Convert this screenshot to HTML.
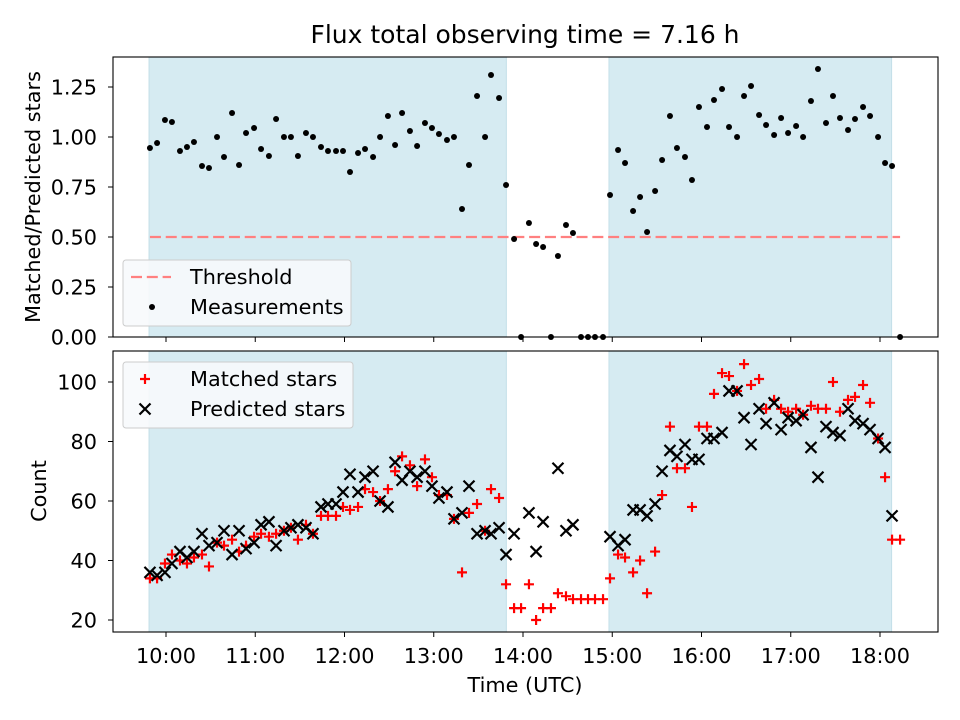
<!DOCTYPE html>
<html><head><meta charset="utf-8"><style>
body{margin:0;background:#fff}
svg{display:block;font-family:"DejaVu Sans","Liberation Sans",sans-serif}
</style></head><body>
<svg id="chart" width="960" height="720" viewBox="0 0 960 720" xmlns="http://www.w3.org/2000/svg"></svg>
<script>
// minutes after 09:00 UTC
const times=[49.2,54.0,59.3,64.0,69.4,74.1,78.8,84.2,88.9,94.3,99.0,104.4,109.1,113.8,119.2,123.9,129.2,134.0,139.3,144.0,148.7,154.1,158.8,164.2,168.9,174.3,179.0,183.7,189.1,193.8,199.2,203.9,209.2,214.0,218.7,224.0,228.8,234.1,238.8,243.5,248.9,253.6,259.0,263.7,269.1,274.5,278.5,283.9,288.6,294.0,
298.7,304.0,308.8,313.5,318.8,323.5,328.9,333.6,339.0,343.7,348.4,353.8,
358.5,363.9,368.6,374.0,378.7,383.4,388.8,393.5,398.8,403.5,408.9,413.6,418.3,423.7,428.4,433.8,438.5,443.9,448.6,453.3,458.7,463.4,468.8,473.5,478.2,483.6,488.3,493.6,498.3,503.7,508.4,513.1,518.5,523.2,528.6,533.3,538.7,543.4,548.1,553.5];
const ratio=[.945,.97,1.085,1.075,.93,.95,.975,.855,.845,1.0,.9,1.12,.86,1.02,1.045,.94,.905,1.09,1.0,1.0,.905,1.02,1.0,.95,.93,.93,.93,.825,.92,.94,.9,1.0,1.105,.96,1.12,1.03,.955,1.07,1.045,1.015,.985,1.0,.64,.86,1.205,1.0,1.31,1.195,.76,.49,
0,.57,.465,.45,0,.405,.56,.52,0,0,0,0,
.71,.935,.87,.63,.70,.525,.73,.885,1.105,.945,.9,.785,1.15,1.05,1.185,1.24,1.05,1.0,1.205,1.255,1.11,1.06,1.01,1.095,1.02,1.055,1.0,1.18,1.34,1.07,1.205,1.095,1.035,1.09,1.15,1.105,1.0,.87,.855,0];
const matched=[34,34,39,42,40,39,41,42,38,46,45,47,43,45,48,49,48,49,50,51,47,52,49,55,55,55,58,57,58,64,63,60,64,70,75,72,65,74,68,62,62,54,36,56,59,50,64,61,32,24,
24,32,20,24,24,29,28,27,27,27,27,27,
34,42,41,36,40,29,43,62,85,71,71,58,85,85,96,103,102,97,106,99,101,91,94,91,90,91,89,92,91,91,100,90,94,95,99,93,81,68,47,47];
const predicted=[36,35,36,39,43,41,43,49,45,46,50,42,50,44,46,52,53,45,50,51,52,51,49,58,59,59,63,69,63,68,70,60,58,73,67,70,68,70,65,61,63,54,56,65,49,50,49,51,42,49,
null,56,43,53,null,71,50,52,null,null,null,null,
48,45,47,57,57,55,59,70,77,75,79,74,74,81,81,83,97,97,88,79,91,86,93,84,88,87,89,78,68,85,83,82,91,87,86,84,81,78,55,null];
const spans=[[48.6,288.8],[357.8,547.8]];
const threshold=0.5;
const thresholdRange=[49.2,553.5];
const xTicks=[60,120,180,240,300,360,420,480,540];
const xTickLabels=["10:00","11:00","12:00","13:00","14:00","15:00","16:00","17:00","18:00"];
const topTicks=[0,0.25,0.5,0.75,1.0,1.25];
const topTickLabels=["0.00","0.25","0.50","0.75","1.00","1.25"];
const botTicks=[20,40,60,80,100];
const botTickLabels=["20","40","60","80","100"];

const NS="http://www.w3.org/2000/svg";
const svg=document.getElementById('chart');
function mk(tag,attrs,parent){const e=document.createElementNS(NS,tag);for(const k in attrs)e.setAttribute(k,attrs[k]);(parent||svg).appendChild(e);return e;}
const L=113,R=938,T1=57,B1=337,T2=351,B2=632;
const FS=20.8;
const xs=m=>166+(m-60)/60*89.25;
const y1=v=>337-v*200;
const y2=v=>620-(v-20)*2.975;

function panel(top,bot,name){
  const g=mk('g',{});
  
  
  spans.forEach(s=>{
    const r=mk('rect',{x:xs(s[0]),y:top,width:xs(s[1])-xs(s[0]),height:bot-top,fill:'#d6ebf2',stroke:'#c3dfe8','stroke-width':1},g);
    
    
  });
  return g;
}
const gt=panel(T1,B1,'ratio-panel');
const th=mk('line',{x1:xs(thresholdRange[0]),x2:xs(thresholdRange[1]),y1:y1(threshold),y2:y1(threshold),stroke:'#ff8080','stroke-width':2.3,'stroke-dasharray':'11,4.8'},gt);


times.forEach((t,i)=>{
  const c=mk('circle',{cx:xs(t),cy:y1(ratio[i]),r:3,fill:'#000'},gt);
  
  
});
const gb=panel(T2,B2,'count-panel');
times.forEach((t,i)=>{
  const x=xs(t),y=y2(matched[i]);
  const p=mk('path',{d:`M${x-5},${y}H${x+5}M${x},${y-5}V${y+5}`,stroke:'#ff0000','stroke-width':2.2,fill:'none'},gb);
  
  
});
times.forEach((t,i)=>{
  if(predicted[i]===null)return;
  const x=xs(t),y=y2(predicted[i]);
  const p=mk('path',{d:`M${x-5.5},${y-5.5}L${x+5.5},${y+5.5}M${x-5.5},${y+5.5}L${x+5.5},${y-5.5}`,stroke:'#000','stroke-width':2.2,fill:'none'},gb);
  
  
});
[[T1,B1,'ratio-frame'],[T2,B2,'count-frame']].forEach(f=>{
  const r=mk('rect',{x:L,y:f[0],width:R-L,height:f[1]-f[0],fill:'none',stroke:'#000','stroke-width':1.1});
  
  
});
xTicks.forEach((m,i)=>{
  const x=xs(m);
  mk('line',{x1:x,x2:x,y1:B1,y2:B1+5,stroke:'#000'});
  mk('line',{x1:x,x2:x,y1:B2,y2:B2+5,stroke:'#000'});
  const tx=mk('text',{x:x,y:B2+31,'font-size':FS,'text-anchor':'middle'});
  tx.textContent=xTickLabels[i];
  
  
});
topTicks.forEach((v,i)=>{
  const y=y1(v);
  mk('line',{x1:L-5,x2:L,y1:y,y2:y,stroke:'#000'});
  const tx=mk('text',{x:L-16,y:y+7.5,'font-size':FS,'text-anchor':'end'});
  tx.textContent=topTickLabels[i];
  
  
});
botTicks.forEach((v,i)=>{
  const y=y2(v);
  mk('line',{x1:L-5,x2:L,y1:y,y2:y,stroke:'#000'});
  const tx=mk('text',{x:L-16,y:y+7.5,'font-size':FS,'text-anchor':'end'});
  tx.textContent=botTickLabels[i];
  
  
});
</script>
<script>
(function(){
const NS="http://www.w3.org/2000/svg";const svg=document.getElementById('chart');
const FS=20.8;
function mk(tag,attrs){const e=document.createElementNS(NS,tag);for(const k in attrs)e.setAttribute(k,attrs[k]);svg.appendChild(e);return e;}
let t=mk('text',{x:525,y:43,'font-size':25,'text-anchor':'middle'});t.textContent='Flux total observing time = 7.16 h';


t=mk('text',{x:40,y:197,'font-size':FS,'text-anchor':'middle',transform:'rotate(-90 40 197)'});t.textContent='Matched/Predicted stars';


t=mk('text',{x:46,y:491,'font-size':FS,'text-anchor':'middle',transform:'rotate(-90 46 491)'});t.textContent='Count';


t=mk('text',{x:525,y:692,'font-size':FS,'text-anchor':'middle'});t.textContent='Time (UTC)';


let r=mk('rect',{x:123,y:260,width:228,height:66,rx:3,fill:'#f7fafc','fill-opacity':0.9,stroke:'#ccc'});


mk('line',{x1:131,x2:171,y1:277,y2:277,stroke:'#ff8080','stroke-width':2.3,'stroke-dasharray':'11,4.8'});
mk('circle',{cx:152,cy:307,r:3,fill:'#000'});
t=mk('text',{x:190,y:284,'font-size':FS});t.textContent='Threshold';


t=mk('text',{x:190,y:314,'font-size':FS});t.textContent='Measurements';


r=mk('rect',{x:123,y:362,width:230,height:66,rx:3,fill:'#f7fafc','fill-opacity':0.9,stroke:'#ccc'});


mk('path',{d:'M140,379H150M145,374V384',stroke:'#f00','stroke-width':2.2});
mk('path',{d:'M139.5,403.5L150.5,414.5M139.5,414.5L150.5,403.5',stroke:'#000','stroke-width':2.2});
t=mk('text',{x:190,y:386,'font-size':FS});t.textContent='Matched stars';


t=mk('text',{x:190,y:416,'font-size':FS});t.textContent='Predicted stars';


})();
</script>
</body></html>
